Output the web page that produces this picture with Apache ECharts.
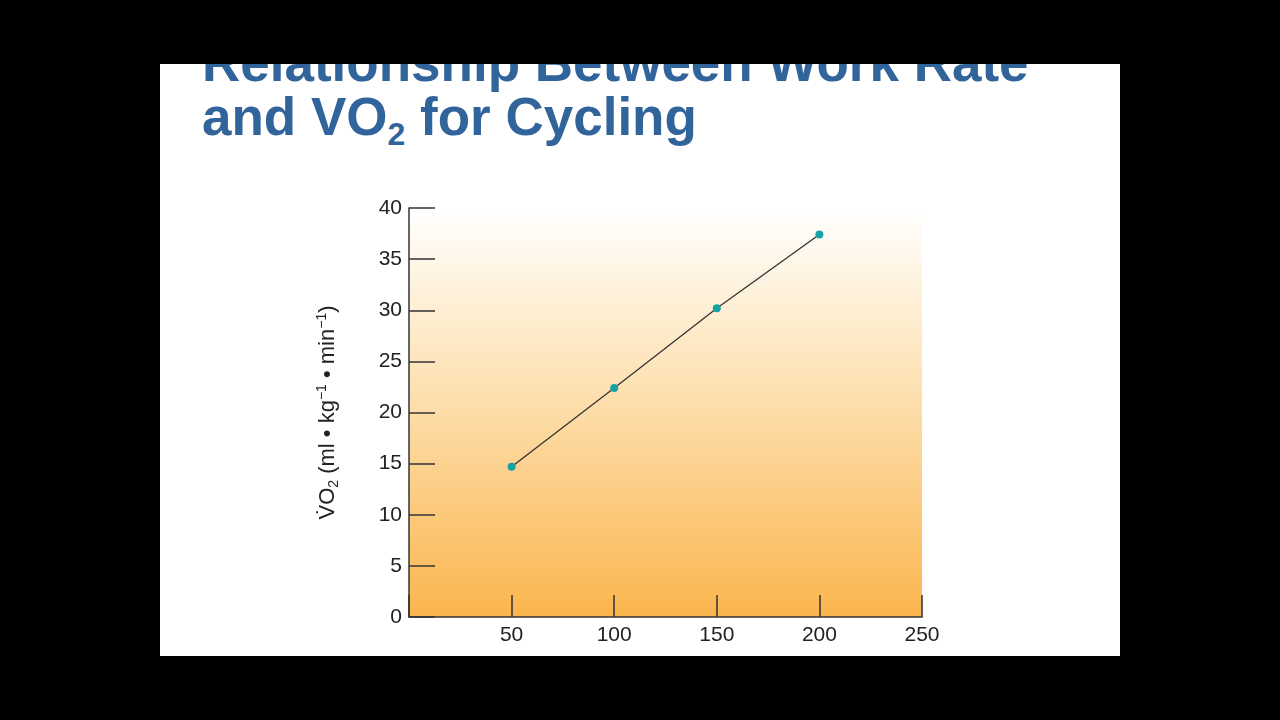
<!DOCTYPE html>
<html>
<head>
<meta charset="utf-8">
<script src="https://cdn.jsdelivr.net/npm/echarts@6/dist/echarts.min.js"></script>
<style>
    html, body { margin: 0; padding: 0; background: #000; }
    #stage { position: relative; width: 1280px; height: 720px; overflow: hidden; }
    #slide { position: absolute; left: 160px; top: 64px; width: 960px; height: 592px; background: #fff; overflow: hidden; }
    #title {
        position: absolute; left: 42px; top: -28px; white-space: nowrap;
        font-family: "Liberation Sans", Arial, sans-serif; font-weight: bold;
        font-size: 53px; line-height: 54px; color: #31649a;
    }
    #title sub { font-size: 32px; vertical-align: -10px; line-height: 0; }
    #chart { position: absolute; left: 0; top: 0; width: 1280px; height: 720px; }
</style>
</head>
<body>
<div id="stage">
    <div id="slide">
        <div id="title">Relationship Between Work Rate<br>and VO<sub>2</sub> for Cycling</div>
    </div>
    <div id="chart"></div>
</div>
<script>
// work rate (W) and VO2 (ml/kg/min)
const workRate = [50, 100, 150, 200]
const vo2 = [14.7, 22.4, 30.2, 37.4]
const xTicks = [0, 50, 100, 150, 200, 250]
const yTicks = [0, 5, 10, 15, 20, 25, 30, 35, 40]

const chart = echarts.init(document.getElementById('chart'))

const font = '"Liberation Sans", Arial, sans-serif'
const axisText = {
    fontFamily: font,
    fontSize: 21,
    color: '#222'
}

chart.setOption({
    animation: false,
    grid: {
        left: 409,
        right: 358,
        top: 208,
        bottom: 103,
        show: true,
        borderWidth: 0,
        backgroundColor: new echarts.graphic.LinearGradient(0, 0, 0, 1, [
            { offset: 0, color: '#ffffff' },
            { offset: 0.08, color: '#fffaf1' },
            { offset: 0.45, color: '#fde0b0' },
            { offset: 1, color: '#fbb54e' }
        ])
    },
    xAxis: {
        type: 'value',
        min: xTicks[0],
        max: xTicks[xTicks.length - 1],
        interval: 50,
        axisLine: { show: true, lineStyle: { color: '#333', width: 1.5 } },
        axisTick: { show: true, inside: true, length: 22, lineStyle: { color: '#333', width: 1.5 } },
        axisLabel: Object.assign({
            margin: 8,
            formatter: v => (v === 0 ? '' : String(v))
        }, axisText),
        splitLine: { show: false }
    },
    yAxis: {
        type: 'value',
        min: yTicks[0],
        max: yTicks[yTicks.length - 1],
        interval: 5,
        name: '{t|V\u0307O}{sub|2}{t| (ml \u2022 kg}{sup|\u22121}{t| \u2022 min}{sup|\u22121}{t|)}',
        nameLocation: 'middle',
        nameGap: 68,
        nameRotate: 90,
        nameTextStyle: {
            rich: {
                t: { fontFamily: font, fontSize: 22, color: '#222', lineHeight: 26, verticalAlign: 'middle' },
                sub: { fontFamily: font, fontSize: 14, color: '#222', lineHeight: 14, verticalAlign: 'bottom' },
                sup: { fontFamily: font, fontSize: 14, color: '#222', lineHeight: 14, verticalAlign: 'top' }
            }
        },
        axisLine: { show: true, lineStyle: { color: '#333', width: 1.5 } },
        axisTick: { show: true, inside: true, length: 26, lineStyle: { color: '#333', width: 1.5 } },
        axisLabel: Object.assign({ margin: 7 }, axisText),
        splitLine: { show: false }
    },
    series: [{
        type: 'line',
        data: workRate.map((w, i) => [w, vo2[i]]),
        symbol: 'circle',
        symbolSize: 8,
        itemStyle: { color: '#17a3a3' },
        lineStyle: { color: '#333', width: 1.3 }
    }]
})
</script>
</body>
</html>
